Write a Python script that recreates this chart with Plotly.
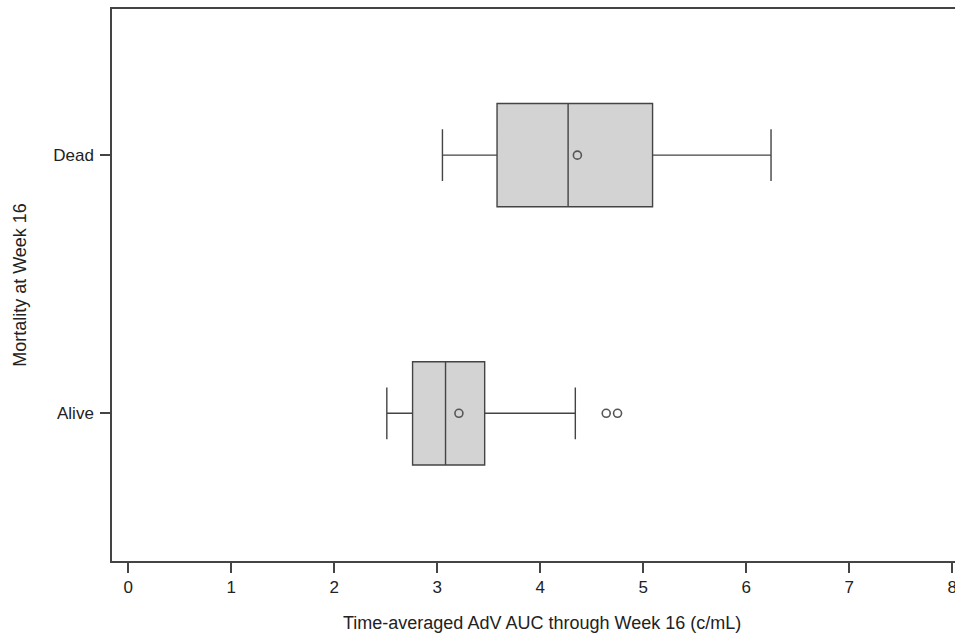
import plotly.graph_objects as go

groups = ["Alive", "Dead"]
q1 = [2.76, 3.58]
median = [3.08, 4.27]
q3 = [3.46, 5.09]
lower_whisker = [2.51, 3.05]
upper_whisker = [4.34, 6.24]
means = [3.21, 4.36]
outlier_values = [4.64, 4.75]
outlier_groups = ["Alive", "Alive"]

x_ticks = [0, 1, 2, 3, 4, 5, 6, 7, 8]
x_title = "Time-averaged AdV AUC through Week 16 (c/mL)"
y_title = "Mortality at Week 16"

line_col = "#444444"
fill_col = "#d3d3d3"
font_family = "Arial, Liberation Sans, sans-serif"

fig = go.Figure()
for i, g in enumerate(groups):
    fig.add_trace(go.Box(
        y=[g], q1=[q1[i]], median=[median[i]], q3=[q3[i]],
        lowerfence=[lower_whisker[i]], upperfence=[upper_whisker[i]],
        orientation="h", width=0.4, whiskerwidth=0.5,
        fillcolor=fill_col, line=dict(color=line_col, width=1.4),
        boxpoints=False, showlegend=False, hoverinfo="skip",
    ))

marker_style = dict(symbol="circle-open", size=8, color="#555555", line=dict(width=1.6, color="#555555"))
fig.add_trace(go.Scatter(x=means, y=groups, mode="markers", marker=marker_style,
                         showlegend=False, hoverinfo="skip"))
fig.add_trace(go.Scatter(x=outlier_values, y=outlier_groups, mode="markers", marker=marker_style,
                         showlegend=False, hoverinfo="skip"))

fig.add_annotation(text=x_title, xref="paper", yref="paper", x=0.510, y=-0.1123,
                   xanchor="center", yanchor="middle", showarrow=False, font=dict(size=18))

fig.update_layout(
    width=955, height=634,
    margin=dict(l=112, r=0, t=9, b=73, autoexpand=False),
    plot_bgcolor="white", paper_bgcolor="white",
    font=dict(family=font_family, size=17, color="#222222"),
    xaxis=dict(
        range=[-0.158, 8.026], tickvals=x_ticks, ticktext=[str(t) for t in x_ticks],
        showgrid=False, zeroline=False, showline=True, linecolor=line_col, linewidth=1.5,
        mirror=True, ticks="outside", ticklen=10, tickcolor=line_col, tickwidth=1.5,
        tickfont=dict(size=17), ticklabeloverflow="allow",
    ),
    yaxis=dict(
        type="category", categoryorder="array", categoryarray=groups,
        range=[-0.572, 1.566],
        showgrid=False, zeroline=False, showline=True, linecolor=line_col, linewidth=1.5,
        ticks="outside", ticklen=10, tickcolor=line_col, tickwidth=1.5,
        tickfont=dict(size=17), ticklabelstandoff=3,
        title=dict(text=y_title, font=dict(size=18), standoff=22),
    ),
)

fig.write_html("out.html", config={"displayModeBar": False},
               post_script="document.body.style.margin='0';document.body.style.overflow='hidden';")
